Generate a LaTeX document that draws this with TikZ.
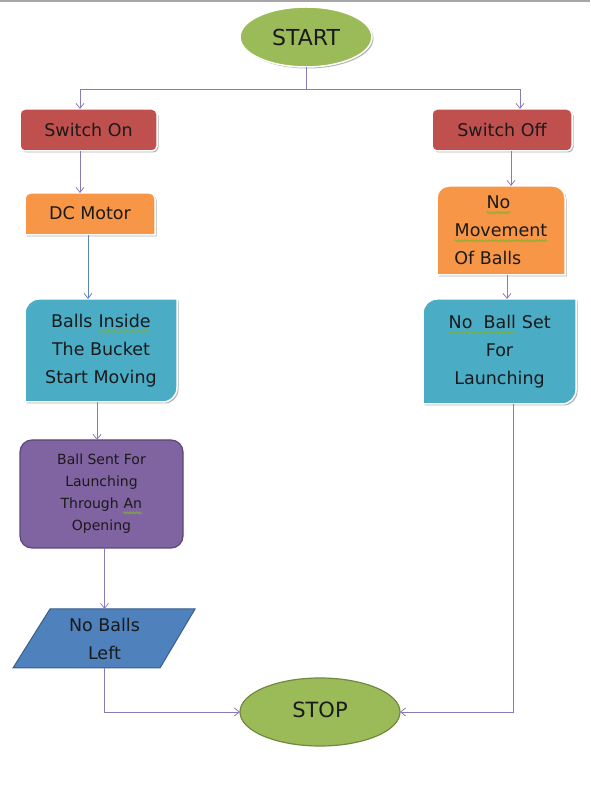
\documentclass[tikz,border=0pt]{standalone}
\usepackage{fontspec}
\setmainfont{DejaVu Sans}
\usetikzlibrary{shapes.geometric,shadows,arrows.meta,decorations.pathmorphing,backgrounds}
\definecolor{cgreen}{HTML}{9BBB59}
\definecolor{cgreenD}{HTML}{71893F}
\definecolor{cred}{HTML}{C0504D}
\definecolor{corange}{HTML}{F79646}
\definecolor{cteal}{HTML}{4BACC6}
\definecolor{cpurple}{HTML}{8064A2}
\definecolor{cpurpleD}{HTML}{5C4776}
\definecolor{cblue}{HTML}{4F81BD}
\definecolor{cblueD}{HTML}{385D8A}
\definecolor{cline}{HTML}{8A7AB8}
\definecolor{clineB}{HTML}{5A86C0}
\definecolor{sqg}{HTML}{7FB32F}
\definecolor{ctext}{HTML}{1A1A1A}
\newcommand\sq[1]{\tikz[baseline=(w.base)]{\node[inner sep=0pt,outer sep=0pt,minimum width=0pt,minimum height=0pt,shape=rectangle,anchor=center,draw=none,fill=none](w){#1};\draw[sqg,line width=0.7pt,decorate,decoration={snake,amplitude=1pt,segment length=3pt}]([yshift=-4pt]w.base west)--([yshift=-4pt]w.base east);}}
\begin{document}
\begin{tikzpicture}[x=1pt,y=1pt,
  shd/.style={drop shadow={shadow xshift=1.5pt,shadow yshift=-1.5pt,opacity=0.3,fill=black}},
  wbox/.style={draw=white,line width=1.5pt,shd},
  txt/.style={text=ctext,font=\fontsize{17.5}{28}\selectfont,align=center,inner sep=0pt,outer sep=0pt},
  conn/.style={draw=cline,line width=0.8pt},
  tip/.style={-{Straight Barb[length=5pt,width=8pt]}}]
\useasboundingbox (0,0) rectangle (590,785);
\draw[gray!70,line width=2pt] (0,784) -- (590,784);

% terminals
\node[ellipse,wbox,fill=cgreen,minimum width=132,minimum height=60,text=ctext,font=\fontsize{22}{24}\selectfont,outer sep=0pt,inner sep=0pt] (start) at (306,748) {START};
\node[ellipse,fill=cgreen,draw=cgreenD,line width=1.2pt,minimum width=160,minimum height=68,text=ctext,font=\fontsize{21}{24}\selectfont,outer sep=0pt,inner sep=0pt] (stop) at (320,73) {\raisebox{4pt}{STOP}};

% simple boxes
\node[txt,wbox,fill=cred,rounded corners=5pt,minimum width=137,minimum height=42] (son) at (88.5,655) {Switch On};
\node[txt,wbox,fill=cred,rounded corners=5pt,minimum width=140,minimum height=42] (soff) at (502,655) {Switch Off};

% text nodes of custom shapes
\node[txt,minimum width=130,minimum height=42] (dc) at (90,571) {\raisebox{2pt}{DC Motor}};
\node[txt,minimum width=128,minimum height=89,align=left] (nm) at (501,554.5) {\hspace*{32pt}\sq{No}\\\sq{Movement}\\Of Balls};
\node[txt,minimum width=152,minimum height=103] (balls) at (101,434.5) {Balls \sq{Inside}\\The Bucket\\Start Moving};
\node[txt,minimum width=153,minimum height=105] (nbs) at (499.5,433.5) {\sq{No\ \ Ball} Set\\For\\Launching};
\node[txt,font=\fontsize{14}{22}\selectfont,minimum width=163,minimum height=108] (bs) at (101.5,291) {Ball Sent For\\Launching\\Through \sq{An}\\Opening};
\node[txt,minimum width=146,minimum height=59] (nb) at (104.5,146.5) {No Balls\\Left};

\begin{scope}[on background layer]
  % DC Motor: top corners rounded
  \filldraw[wbox,fill=corange] (dc.south west) -- ([yshift=-6]dc.north west) arc[start angle=180,end angle=90,radius=6] -- ([xshift=-6]dc.north east) arc[start angle=90,end angle=0,radius=6] -- (dc.south east) -- cycle;
  % No Movement: top corners rounded
  \filldraw[wbox,fill=corange] (nm.south west) -- ([yshift=-12]nm.north west) arc[start angle=180,end angle=90,radius=12] -- ([xshift=-12]nm.north east) arc[start angle=90,end angle=0,radius=12] -- (nm.south east) -- cycle;
  % Balls inside: TL and BR rounded
  \filldraw[wbox,fill=cteal] (balls.south west) -- ([yshift=-14]balls.north west) arc[start angle=180,end angle=90,radius=14] -- (balls.north east) -- ([yshift=14]balls.south east) arc[start angle=0,end angle=-90,radius=14] -- cycle;
  % No ball set: TL and BR rounded
  \filldraw[wbox,fill=cteal] (nbs.south west) -- ([yshift=-14]nbs.north west) arc[start angle=180,end angle=90,radius=14] -- (nbs.north east) -- ([yshift=14]nbs.south east) arc[start angle=0,end angle=-90,radius=14] -- cycle;
  % Ball sent
  \filldraw[fill=cpurple,draw=cpurpleD,line width=1.2pt,rounded corners=12pt] (bs.south west) rectangle (bs.north east);
  % No balls left parallelogram
  \filldraw[fill=cblue,draw=cblueD,line width=1pt] (50,176) -- (195,176) -- (160,117) -- (13,117) -- cycle;
\end{scope}

% connectors
\draw[conn] (start.south) -- (306,696) coordinate (j);
\draw[conn,tip] (j) -| ([xshift=-8.5]son.north);
\draw[conn,tip] (j) -| ([xshift=18]soff.north);
\draw[conn,tip] ([xshift=-8.5]son.south) -- ([xshift=-10]dc.north);
\draw[conn,draw=clineB,tip] ([xshift=-2]dc.south) -- ([xshift=-13]balls.north);
\draw[conn,tip] ([xshift=-4]balls.south) -- ([xshift=-4.5]bs.north);
\draw[conn,tip] ([xshift=3]bs.south) -- ([xshift=0]nb.north);
\draw[conn,tip] (nb.south) |- (stop.west);
\draw[conn,tip] ([xshift=9]soff.south) -- ([xshift=10]nm.north);
\draw[conn,tip] ([xshift=6]nm.south) -- ([xshift=7.5]nbs.north);
\draw[conn,tip] ([xshift=14]nbs.south) |- (stop.east);
\end{tikzpicture}
\end{document}
